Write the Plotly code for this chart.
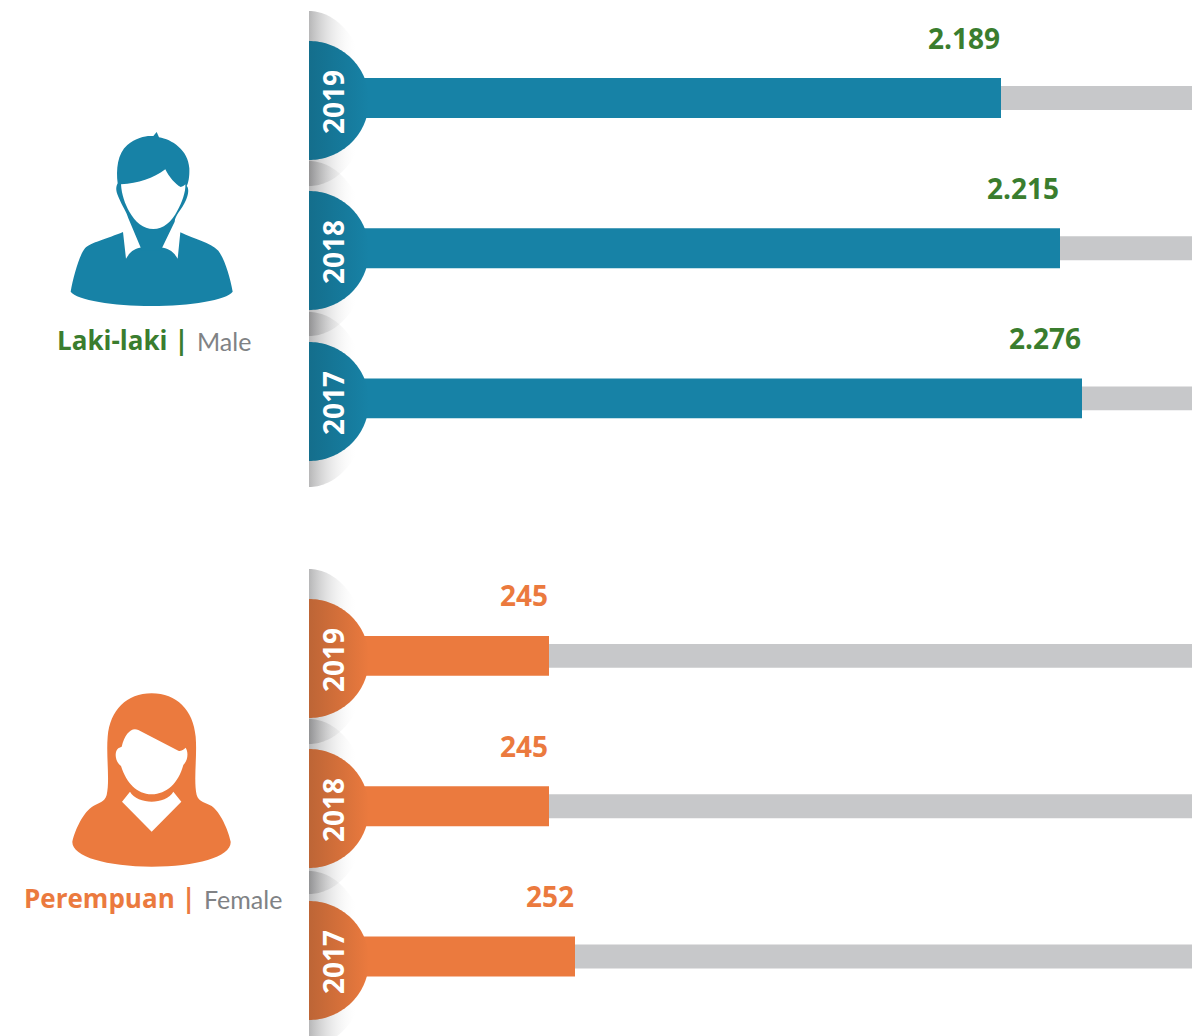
import re
import numpy as np
import plotly.graph_objects as go

W, H = 1192, 1036
years = ["2019", "2018", "2017"]
male_values = ["2.189", "2.215", "2.276"]
female_values = ["245", "245", "252"]
# the reference's bars are not drawn to a common scale: lengths as read from it
male_lengths = [692, 751, 773]
female_lengths = [240, 240, 266]
track_lengths = [883, 883, 883]

TEAL, TEAL_D = "#1782A6", "#146E8C"
ORANGE, ORANGE_D = "#EB7A3E", "#BD6536"
GREY = "#C7C8CA"
GREEN = "#3A7D2E"
FONT = "Open Sans"
FONT_SUB = "Lato"

fig = go.Figure()


def bars(lengths, color, yaxis):
    fig.add_trace(go.Bar(y=years, x=track_lengths, orientation="h", width=24 / 150.5,
                         marker=dict(color=GREY, line_width=0), xaxis="x", yaxis=yaxis,
                         hoverinfo="skip", showlegend=False))
    fig.add_trace(go.Bar(y=years, x=lengths, orientation="h", width=40 / 150.5,
                         marker=dict(color=color, line_width=0), xaxis="x", yaxis=yaxis,
                         hoverinfo="skip", showlegend=False))


bars(male_lengths, TEAL, "y")
bars(female_lengths, ORANGE, "y2")


def half(cx, cy, rx, ry_top, ry_bot):
    t = np.linspace(-np.pi / 2, np.pi / 2, 90)
    xs = cx + rx * np.cos(t)
    ys = cy + np.where(t < 0, ry_top, ry_bot) * np.sin(t)
    return xs, ys


def wedge(cy):
    xs, ys = half(309, cy, 60, 89.5, 85.5)
    fig.add_trace(go.Scatter(
        x=xs, y=ys, mode="none", fill="toself", xaxis="x2", yaxis="y3",
        fillgradient=dict(type="horizontal", start=309, stop=358,
                          colorscale=[[0, "rgba(110,110,112,0.5)"], [1, "rgba(255,255,255,0)"]]),
        hoverinfo="skip", showlegend=False))


def disc(cy, dark, light):
    xs, ys = half(309, cy, 60, 59.5, 59.5)
    fig.add_trace(go.Scatter(
        x=xs, y=ys, mode="none", fill="toself", xaxis="x2", yaxis="y3",
        fillgradient=dict(type="horizontal", start=309, stop=369,
                          colorscale=[[0, dark], [1, light]]),
        hoverinfo="skip", showlegend=False))


male_cy = [100.5, 250.5, 401.5]
female_cy = [658.5, 808.5, 960.5]
for cy in male_cy + female_cy:
    wedge(cy)
for cy in male_cy:
    disc(cy, TEAL_D, TEAL)
for cy in female_cy:
    disc(cy, ORANGE_D, ORANGE)


def scale_path(path, ox, oy):
    out, is_x = [], True
    for tok in re.findall(r"-?\d+\.?\d*|[A-Za-z]", path):
        if tok.isalpha():
            out.append(tok)
            is_x = True
        else:
            v = float(tok) / 3 + (ox if is_x else oy)
            out.append(f"{v:.2f}")
            is_x = not is_x
    return " ".join(out)


def icon(path, color, ox, oy):
    return dict(type="path", path=scale_path(path, ox, oy), xref="x2", yref="y3",
                fillcolor=color, line_width=0, layer="above")


man = [
    ("M 92 515 C 100 470 118 405 135 385 C 150 368 205 355 249 336 L 258 416 C 270 395 285 385 306 382 "
     "L 362 382 C 385 385 401 395 413 416 L 421 337 C 465 358 510 368 535 392 "
     "C 555 420 570 470 578 515 C 560 540 450 558 335 558 C 220 558 110 540 92 515 Z", TEAL),
    ("M 233 190 C 228 150 232 100 262 75 C 285 55 315 48 330 48 L 340 48 L 350 36 L 357 52 "
     "C 395 58 445 90 448 145 C 449 170 445 190 440 198 C 448 205 445 225 438 240 C 425 270 405 285 404 305 "
     "L 362 392 L 306 392 L 265 295 C 262 280 245 255 235 230 C 226 210 228 200 233 190 Z", TEAL),
    ("M 243 193 C 295 190 340 175 376 148 C 388 172 405 192 422 201 C 428 200 432 197 436 193 "
     "C 438 215 425 250 412 272 C 395 305 370 327 340 327 C 310 327 285 305 268 275 C 255 252 245 225 243 193 Z", "white"),
]
woman = [
    ("M 425 40 C 500 40 550 90 557 170 C 562 230 550 300 560 345 C 565 365 590 370 605 378 "
     "C 630 395 655 450 662 485 C 665 530 560 560 425 560 C 290 560 185 530 187 485 "
     "C 195 450 220 395 250 378 C 265 370 285 365 290 345 C 300 300 288 230 293 170 C 300 90 350 40 425 40 Z", ORANGE),
    ("M 335 200 C 345 160 365 140 385 150 L 505 212 C 515 215 522 207 527 203 C 535 215 535 240 520 255 "
     "C 505 310 470 342 425 343 C 380 342 350 310 333 258 C 315 245 312 215 325 205 L 335 200 Z", "white"),
    ("M 360 335 C 370 355 400 365 425 365 C 450 365 480 355 490 335 L 514 365 L 425 455 L 336 365 Z", "white"),
]
shapes = [icon(p, c, 40, 120) for p, c in man] + [icon(p, c, 10, 680) for p, c in woman]

ann = []


def value_labels(vals, lengths, yref, color):
    for i, (v, l) in enumerate(zip(vals, lengths)):
        ann.append(dict(x=l, y=i, xref="x", yref=yref, text=f"<b>{v}</b>", showarrow=False,
                        xanchor="right", yanchor="middle", yshift=60.5, xshift=1,
                        font=dict(family=FONT, size=28, color=color)))


value_labels(male_values, male_lengths, "y", GREEN)
value_labels(female_values, female_lengths, "y2", ORANGE)

for yr, cy in zip(years * 2, male_cy + female_cy):
    ann.append(dict(x=333, y=cy + 1.5, xref="x2", yref="y3", text=f"<b>{yr}</b>", showarrow=False,
                    textangle=-90, xanchor="center", yanchor="middle",
                    font=dict(family=FONT, size=28, color="white")))


def caption(main, sub, right, y, color):
    ann.append(dict(x=right, y=y, xref="x2", yref="y3", text=f"<b>{main} |</b>", showarrow=False,
                    xanchor="right", yanchor="middle",
                    font=dict(family=FONT, size=26, color=color)))
    ann.append(dict(x=right + 4, y=y + 1, xref="x2", yref="y3", text=sub, showarrow=False,
                    xanchor="left", yanchor="middle", font=dict(family=FONT_SUB, size=25, color="#808285")))


caption("Laki-laki", "Male", 191, 340, GREEN)
caption("Perempuan", "Female", 198, 898, ORANGE)

hidden = dict(visible=False, fixedrange=True)
fig.update_layout(
    width=W, height=H, autosize=False,
    margin=dict(l=0, r=0, t=0, b=0, pad=0),
    paper_bgcolor="white", plot_bgcolor="rgba(0,0,0,0)",
    barmode="overlay", showlegend=False,
    xaxis=dict(domain=[309 / W, 1], range=[0, 883], anchor="y", **hidden),
    yaxis=dict(domain=[1 - 473.45 / H, 1 - 22.95 / H], range=[2.5, -0.5], type="category",
               categoryorder="array", categoryarray=years, anchor="x", **hidden),
    yaxis2=dict(domain=[1 - 1031.7 / H, 1 - 580.7 / H], range=[2.5, -0.5], type="category",
                categoryorder="array", categoryarray=years, anchor="x", **hidden),
    xaxis2=dict(domain=[0, 1], range=[0, W], anchor="y3", **hidden),
    yaxis3=dict(domain=[0, 1], range=[H, 0], anchor="x2", **hidden),
    shapes=shapes, annotations=ann,
)
fig.write_html("out.html", config=dict(displayModeBar=False),
               post_script="document.body.style.margin='0';document.documentElement.style.overflow='hidden';")
